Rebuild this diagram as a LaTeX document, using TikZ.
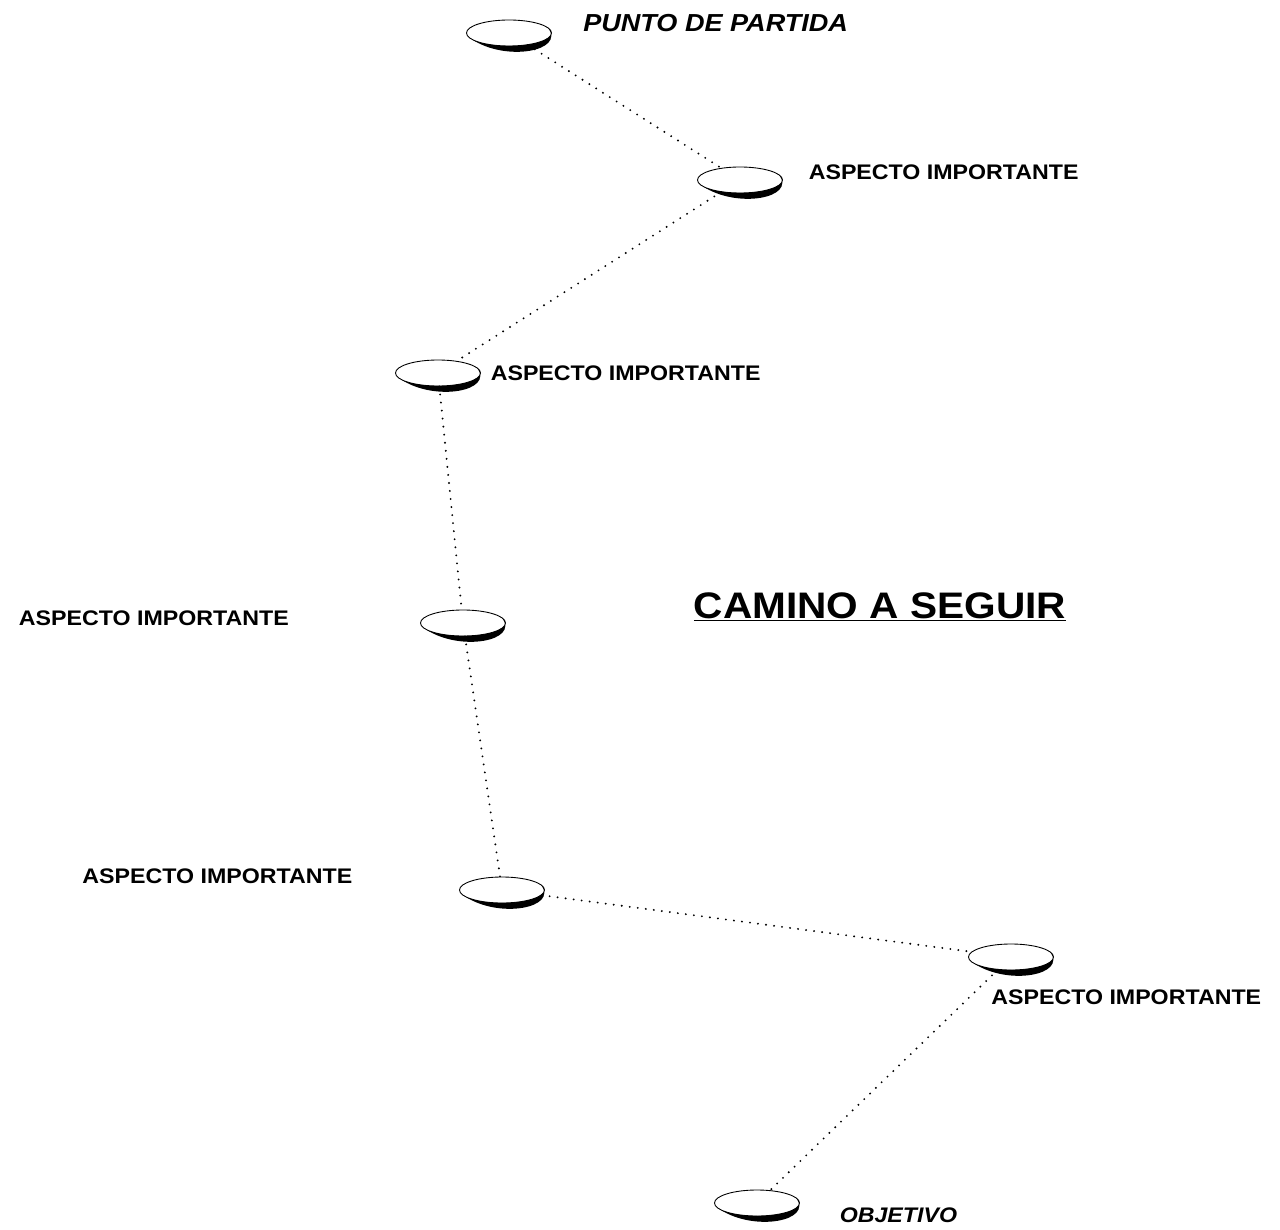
\documentclass[tikz,border=0pt]{standalone}
\usepackage{fontspec}
\setmainfont[FakeStretch=1.1]{Liberation Sans}
\usepackage{tikz}
\usetikzlibrary{shapes, positioning, calc}

\begin{document}
\begin{tikzpicture}[node distance=0.5cm, every node/.style={font=\fontsize{12}{14}\selectfont\bfseries}]
\tikzstyle{hito}=[draw, ellipse, minimum width=1.7cm, minimum height=0.52cm, inner sep=0pt, line width=0.5pt]
\tikzstyle{et}=[inner sep=0pt]
\tikzstyle{extremo}=[inner sep=0pt, font=\fontsize{14}{16}\selectfont\bfseries\itshape]
\tikzstyle{titulo}=[inner sep=0pt, font=\fontsize{21}{25}\selectfont\bfseries]
\tikzstyle{ruta}=[line width=1.2pt, dash pattern=on 0pt off 4.6pt, line cap=round]

\useasboundingbox (0,0) rectangle (25.6,-24.6);

% hitos del camino
\node[hito](e1) at (10.18,-0.66){};
\node[hito](e2) at (14.8,-3.6){};
\node[hito](e3) at (8.76,-7.46){};
\node[hito](e4) at (9.26,-12.46){};
\node[hito](e5) at (10.04,-17.8){};
\node[hito](e6) at (20.22,-19.14){};
\node[hito](e7) at (15.14,-24.06){};

% sombra de cada hito
\foreach \e in {e1,e2,e3,e4,e5,e6,e7}
  \fill ($(\e.center)+(210:.85 and .26)$) arc[start angle=210, end angle=382, x radius=.85, y radius=.26]
    .. controls ($(\e.center)+(1.12,-.36)$) and ($(\e.center)+(-.05,-.58)$) .. cycle;

% etiquetas
\node[extremo, right=0.62cm of e1, yshift=0.2cm](t1){PUNTO DE PARTIDA};
\node[et, right=0.51cm of e2, yshift=0.16cm](t2){ASPECTO IMPORTANTE};
\node[et, right=0.19cm of e3](t3){ASPECTO IMPORTANTE};
\node[et, left=2.62cm of e4, yshift=0.1cm](t4){ASPECTO IMPORTANTE};
\node[et, left=2.13cm of e5, yshift=0.28cm](t5){ASPECTO IMPORTANTE};
\node[et, anchor=west](t6) at (19.82,-19.94){ASPECTO IMPORTANTE};
\node[extremo, right=0.79cm of e7, yshift=-0.24cm, font=\fontsize{12}{14}\selectfont\bfseries\itshape](t7){OBJETIVO};

\node[titulo, anchor=base](titulo) at (17.6,-12.36){\underline{CAMINO A SEGUIR}};

\draw[ruta](e1)--(e2); \draw[ruta](e2)--(e3); \draw[ruta](e3)--(e4);
\draw[ruta](e4)--(e5); \draw[ruta](e5)--(e6); \draw[ruta](e6)--(e7);
\end{tikzpicture}
\end{document}
